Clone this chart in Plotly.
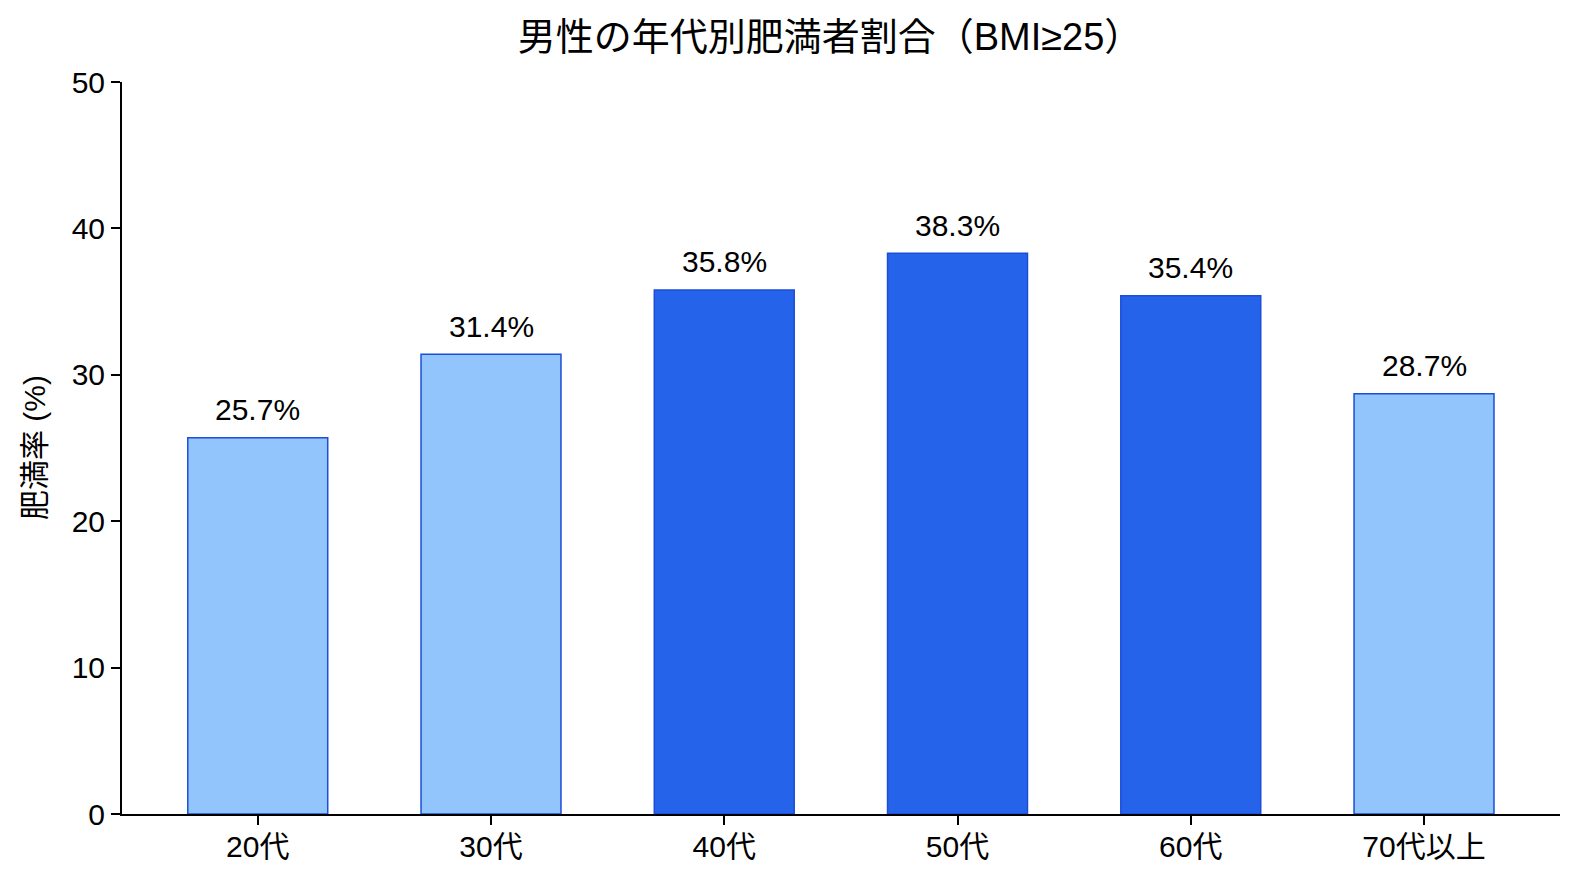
import plotly.graph_objects as go

categories = ["20代", "30代", "40代", "50代", "60代", "70代以上"]
values = [25.7, 31.4, 35.8, 38.3, 35.4, 28.7]
highlight = [False, False, True, True, True, False]
labels = [f"{v:.1f}%" for v in values]

LIGHT = "#93C5FD"
DARK = "#2563EB"
EDGE = "#1D4ED8"
FONT = "Liberation Sans, Noto Sans CJK JP"

colors = [DARK if h else LIGHT for h in highlight]

L, R, T, B = 122, 19, 82, 68
W, H = 1579, 882
PW = W - L - R

fig = go.Figure()
fig.add_trace(go.Bar(
    x=categories, y=values, width=0.6,
    marker=dict(color=colors, line=dict(color=EDGE, width=1.5)),
    hoverinfo="skip",
))
for c, v, t in zip(categories, values, labels):
    fig.add_annotation(x=c, y=v, text=t, showarrow=False, yanchor="middle",
                       yshift=28, font=dict(family=FONT, size=30, color="black"))

# y-axis title
fig.add_annotation(text="肥満率 (%)", xref="paper", yref="paper",
                   x=(34 - L) / PW, y=0.5, xanchor="center", yanchor="middle",
                   textangle=-90, showarrow=False,
                   font=dict(family=FONT, size=30, color="black"))

fig.update_layout(
    width=W, height=H,
    margin=dict(l=L, r=R, t=T, b=B),
    paper_bgcolor="white", plot_bgcolor="white",
    showlegend=False,
    font=dict(family=FONT, color="black"),
    title=dict(text="男性の年代別肥満者割合（BMI≥25）", x=(830 - L) / PW, xref="paper",
               xanchor="center", y=1 - 37 / H, yref="container", yanchor="middle",
               font=dict(family=FONT, size=38, color="black")),
    xaxis=dict(range=[-0.582, 5.583], showline=True, linecolor="black", linewidth=2,
               ticks="outside", ticklen=9, tickwidth=2, tickcolor="black",
               ticklabelstandoff=-4,
               tickfont=dict(family=FONT, size=30), showgrid=False, zeroline=False),
    yaxis=dict(range=[0, 50], dtick=10, showline=True, linecolor="black", linewidth=2,
               ticks="outside", ticklen=9, tickwidth=2, tickcolor="black",
               tickfont=dict(family=FONT, size=30), showgrid=False, zeroline=False),
)
fig.write_html("out.html")
